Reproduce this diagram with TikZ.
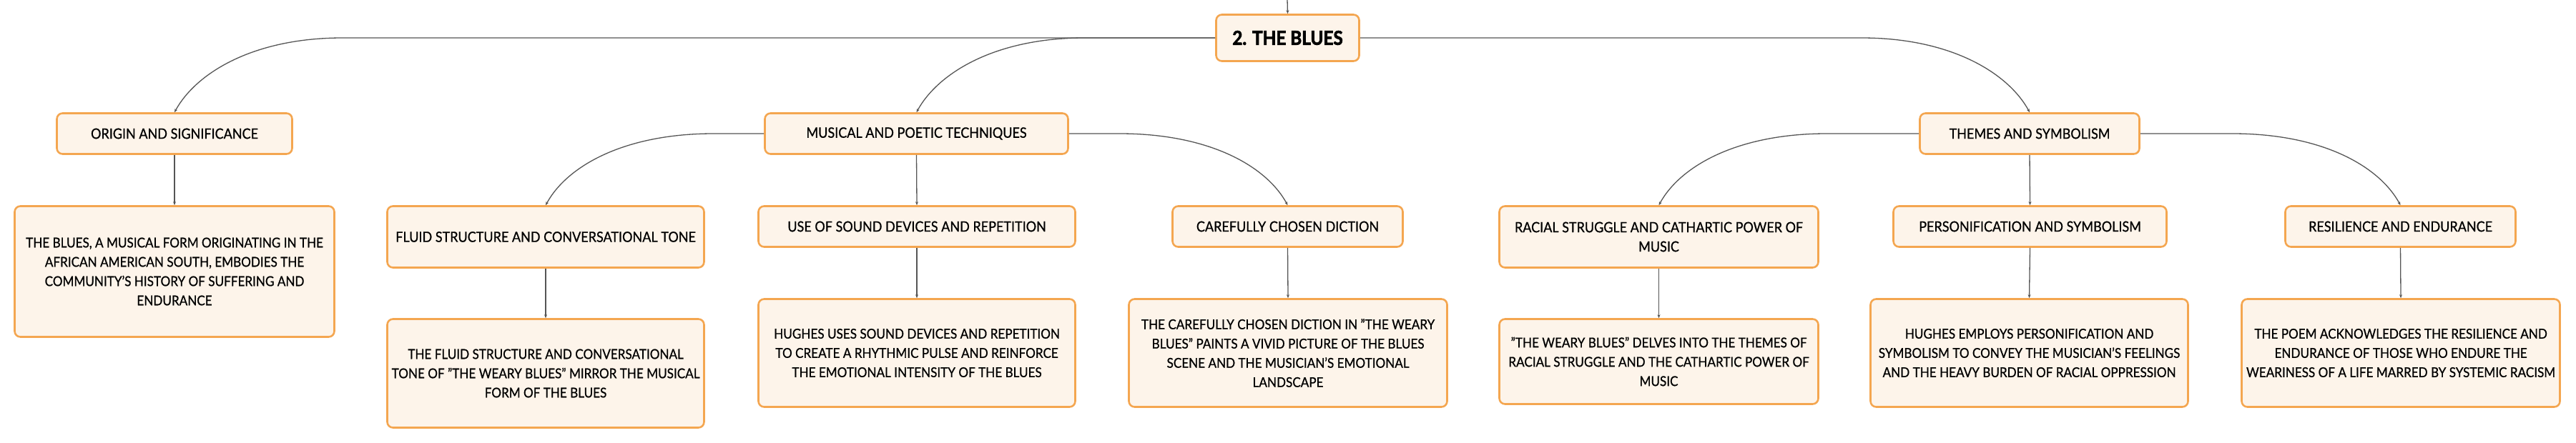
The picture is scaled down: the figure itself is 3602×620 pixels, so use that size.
\documentclass[tikz,border=0pt]{standalone}
\usepackage{fontspec}
\setmainfont{Lato}[FakeStretch=0.9, UprightFeatures={FakeBold=0.8}, BoldFeatures={FakeBold=2.5}]
\usetikzlibrary{arrows.meta,calc}
\definecolor{boxborder}{HTML}{F4A650}
\definecolor{boxfill}{HTML}{FDF4EA}
\definecolor{connline}{HTML}{555555}
\tikzset{
  mmbox/.style={draw=boxborder, fill=boxfill, line width=2.6pt, rounded corners=8pt,
    align=center, inner sep=0pt, text=black, font=\fontsize{20}{27}\selectfont},
  mmdesc/.style={mmbox, font=\fontsize{19}{27}\selectfont},
  mmtitle/.style={mmbox, font=\fontsize{27}{30}\selectfont\bfseries},
  conn/.style={draw=connline, line width=1.3pt, -{Stealth[length=5pt,width=4pt]}},
  curveL/.style={to path={-- ($(\tikztotarget |- \tikztostart)+(235,0)$)
     .. controls ($(\tikztotarget |- \tikztostart)+(110,0)$) and ($(\tikztotarget)+(30,-55)$) .. (\tikztotarget)}},
  curveR/.style={to path={-- ($(\tikztotarget |- \tikztostart)+(-235,0)$)
     .. controls ($(\tikztotarget |- \tikztostart)+(-110,0)$) and ($(\tikztotarget)+(-30,-55)$) .. (\tikztotarget)}},
}
\begin{document}
\begin{tikzpicture}[x=1pt,y=-1pt]
\useasboundingbox (0,0) rectangle (3602,620);

\node[mmtitle, minimum width=200, minimum height=65] (title) at (1800.5,53) {2. THE BLUES};

\node[mmbox, minimum width=329, minimum height=57] (origin) at (244,187) {ORIGIN AND SIGNIFICANCE};
\node[mmdesc, minimum width=447, minimum height=183] (originC) at (244,380) {THE BLUES, A MUSICAL FORM ORIGINATING IN THE\\AFRICAN AMERICAN SOUTH, EMBODIES THE\\COMMUNITY'S HISTORY OF SUFFERING AND\\ENDURANCE};

\node[mmbox, minimum width=424, minimum height=57] (musical) at (1281.5,187) {MUSICAL AND POETIC TECHNIQUES};
\node[mmbox, minimum width=443, minimum height=86] (fluid) at (763,331.5) {FLUID STRUCTURE AND CONVERSATIONAL TONE};
\node[mmdesc, minimum width=443, minimum height=152] (fluidC) at (763,522.5) {THE FLUID STRUCTURE AND CONVERSATIONAL\\TONE OF "THE WEARY BLUES" MIRROR THE MUSICAL\\FORM OF THE BLUES};
\node[mmbox, minimum width=443, minimum height=57] (sound) at (1282,317) {USE OF SOUND DEVICES AND REPETITION};
\node[mmdesc, minimum width=443, minimum height=151] (soundC) at (1282,494) {HUGHES USES SOUND DEVICES AND REPETITION\\TO CREATE A RHYTHMIC PULSE AND REINFORCE\\THE EMOTIONAL INTENSITY OF THE BLUES};
\node[mmbox, minimum width=322, minimum height=57] (diction) at (1800.5,317) {CAREFULLY CHOSEN DICTION};
\node[mmdesc, minimum width=445, minimum height=151] (dictionC) at (1801,494) {THE CAREFULLY CHOSEN DICTION IN "THE WEARY\\BLUES" PAINTS A VIVID PICTURE OF THE BLUES\\SCENE AND THE MUSICIAN'S EMOTIONAL\\LANDSCAPE};

\node[mmbox, minimum width=307, minimum height=57] (themes) at (2838,187) {THEMES AND SYMBOLISM};
\node[mmbox, minimum width=446, minimum height=86] (racial) at (2319.5,331.5) {RACIAL STRUGGLE AND CATHARTIC POWER OF\\MUSIC};
\node[mmdesc, minimum width=446, minimum height=119] (racialC) at (2319.5,506) {"THE WEARY BLUES" DELVES INTO THE THEMES OF\\RACIAL STRUGGLE AND THE CATHARTIC POWER OF\\MUSIC};
\node[mmbox, minimum width=382, minimum height=57] (pers) at (2838.5,317) {PERSONIFICATION AND SYMBOLISM};
\node[mmdesc, minimum width=444, minimum height=151] (persC) at (2837.5,494) {HUGHES EMPLOYS PERSONIFICATION AND\\SYMBOLISM TO CONVEY THE MUSICIAN'S FEELINGS\\AND THE HEAVY BURDEN OF RACIAL OPPRESSION};
\node[mmbox, minimum width=322, minimum height=57] (resil) at (3356.5,317) {RESILIENCE AND ENDURANCE};
\node[mmdesc, minimum width=445, minimum height=151] (resilC) at (3357,494) {THE POEM ACKNOWLEDGES THE RESILIENCE AND\\ENDURANCE OF THOSE WHO ENDURE THE\\WEARINESS OF A LIFE MARRED BY SYSTEMIC RACISM};

\coordinate (topin) at (1799.5,-20);
\draw[conn] (topin) -- (title.north);

\draw[conn] (title.west) to[curveL] (origin.north);
\draw[conn] (title.west) to[curveL] (musical.north);
\draw[conn] (title.east) to[curveR] (themes.north);

\draw[conn] (origin.south) -- (originC.north);

\draw[conn] (musical.west) to[curveL] (fluid.north);
\draw[conn] (musical.south) -- (sound.north);
\draw[conn] (musical.east) to[curveR] (diction.north);
\draw[conn] (fluid.south) -- (fluidC.north);
\draw[conn] (sound.south) -- (soundC.north);
\draw[conn] (diction.south) -- (dictionC.north);

\draw[conn] (themes.west) to[curveL] (racial.north);
\draw[conn] (themes.south) -- (pers.north);
\draw[conn] (themes.east) to[curveR] (resil.north);
\draw[conn] (racial.south) -- (racialC.north);
\draw[conn] (pers.south) -- (persC.north);
\draw[conn] (resil.south) -- (resilC.north);
\end{tikzpicture}
\end{document}
